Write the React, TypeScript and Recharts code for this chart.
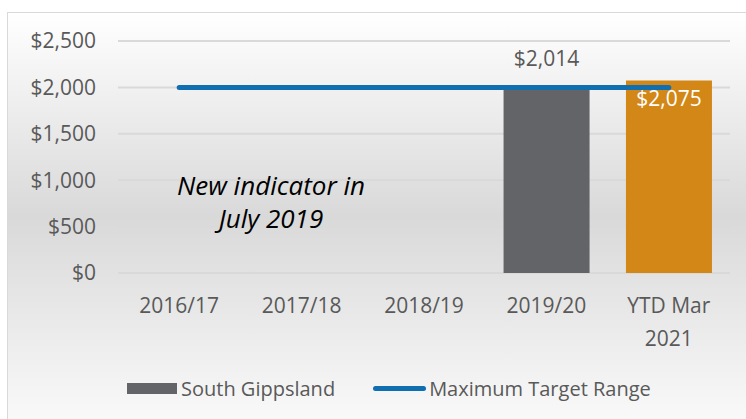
import React from 'react';
import { ComposedChart, Bar, Line, XAxis, YAxis, CartesianGrid, Legend, LabelList, Cell } from 'recharts';

const categories = ['2016/17', '2017/18', '2018/19', '2019/20', 'YTD Mar\n2021'];
const southGippsland: (number | null)[] = [null, null, null, 2014, 2075];
const maxTarget = [2000, 2000, 2000, 2000, 2000];
const yTicks = [0, 500, 1000, 1500, 2000, 2500];

const barColors = ['#626468', '#626468', '#626468', '#626468', '#d28716'];
const TEXT = '#595959';
const FONT = '"Open Sans", sans-serif';

const data = categories.map((name, i) => ({
  name,
  south: southGippsland[i],
  target: maxTarget[i],
}));

const money = (v: number) => `$${v.toLocaleString('en-US')}`;
const lastValue = southGippsland[southGippsland.length - 1];

const CategoryTick = ({ x, y, payload }: any) => {
  const lines = String(payload.value).split('\n');
  return (
    <text x={x} y={y} textAnchor="middle" fill={TEXT} fontSize={21} fontFamily={FONT}>
      {lines.map((l, i) => (
        <tspan key={i} x={x} dy={i === 0 ? '0.71em' : 33}>{l}</tspan>
      ))}
    </text>
  );
};

// the YTD bar carries its label inside the top in white, the other one above
const BarValueLabel = ({ x, y, width, value }: any) => {
  if (value == null) return null;
  const inside = value === lastValue;
  return (
    <text
      x={x + width / 2}
      y={inside ? y + 26 : y - 20}
      textAnchor="middle"
      fill={inside ? '#ffffff' : TEXT}
      fontSize={21}
      fontFamily={FONT}
    >
      {money(value)}
    </text>
  );
};

const ChartLegend = () => (
  <div style={{ display: 'flex', alignItems: 'center', paddingLeft: 119, fontFamily: FONT, fontSize: 20, color: TEXT }}>
    <span style={{ display: 'inline-block', width: 50, height: 11, background: barColors[3], marginRight: 4 }} />
    <span>South Gippsland</span>
    <span style={{ display: 'inline-block', width: 53, height: 5, borderRadius: 3, background: '#0f6fb1', marginLeft: 38, marginRight: 3 }} />
    <span>Maximum Target Range</span>
  </div>
);

export default function App() {
  return (
    <div
      style={{
        position: 'absolute',
        left: 7,
        top: 12,
        width: 738,
        height: 407,
        borderTop: '1px solid #d9d9d9',
        borderLeft: '1px solid #d9d9d9',
        background: 'linear-gradient(180deg, #ffffff 0%, #d9d9d9 50%, #f9f9f9 100%)',
        overflow: 'hidden',
      }}
    >
      <ComposedChart width={738} height={407} data={data} margin={{ top: 28, right: 16, bottom: 0, left: 0 }} barCategoryGap="15%">
        <CartesianGrid vertical={false} stroke="#d9d9d9" strokeWidth={2} />
        <XAxis
          dataKey="name"
          axisLine={false}
          tickLine={false}
          tickSize={0}
          tickMargin={25}
          height={120}
          interval={0}
          tick={<CategoryTick />}
        />
        <YAxis
          width={110}
          domain={[0, 2500]}
          ticks={yTicks}
          axisLine={false}
          tickLine={false}
          tickSize={0}
          tickMargin={22}
          tickFormatter={money}
          tick={{ fill: TEXT, fontSize: 21, fontFamily: FONT }}
        />
        <Legend content={<ChartLegend />} wrapperStyle={{ top: 362, left: 0, width: 738 }} />
        <Bar dataKey="south" name="South Gippsland" isAnimationActive={false}>
          {data.map((_, i) => (
            <Cell key={i} fill={barColors[i]} />
          ))}
          <LabelList dataKey="south" content={<BarValueLabel />} />
        </Bar>
        <Line
          dataKey="target"
          name="Maximum Target Range"
          type="linear"
          stroke="#0f6fb1"
          strokeWidth={5}
          strokeLinecap="round"
          dot={false}
          activeDot={false}
          isAnimationActive={false}
        />
      </ComposedChart>
      <div
        style={{
          position: 'absolute',
          left: 158,
          top: 156,
          width: 210,
          textAlign: 'center',
          fontFamily: FONT,
          fontStyle: 'italic',
          fontSize: 26,
          lineHeight: '33px',
          color: '#000',
        }}
      >
        New indicator in
        <br />
        July 2019
      </div>
    </div>
  );
}
